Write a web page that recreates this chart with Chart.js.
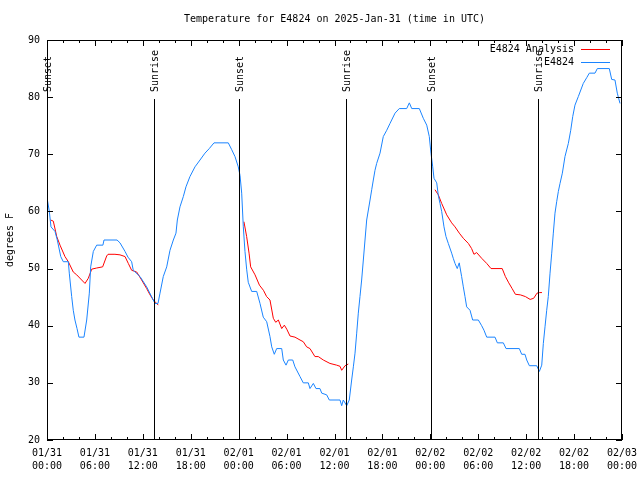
<!DOCTYPE html>
<html><head><meta charset="utf-8">
<script src="https://cdn.jsdelivr.net/npm/chart.js@4/dist/chart.umd.min.js"></script>
<style>html,body{margin:0;padding:0;background:#fff;}</style>
</head><body>
<canvas id="c" width="640" height="480"></canvas>
<script>
const FONT = "'DejaVu Sans Mono', 'Liberation Mono', monospace";

const chartTitle = 'Temperature for E4824 on 2025-Jan-31 (time in UTC)';
const yAxisTitle = 'degrees F';
const xTickLabels = [
  ['01/31','00:00'],['01/31','06:00'],['01/31','12:00'],['01/31','18:00'],
  ['02/01','00:00'],['02/01','06:00'],['02/01','12:00'],['02/01','18:00'],
  ['02/02','00:00'],['02/02','06:00'],['02/02','12:00'],['02/02','18:00'],
  ['02/03','00:00']
];

const sunHours  = [0.02, 13.4, 24.04, 37.44, 48.08, 61.48];
const sunLabels = ['Sunset','Sunrise','Sunset','Sunrise','Sunset','Sunrise'];

// E4824 observations (hours after 01/31 00:00 UTC, deg F)
const obsHours = [0.04,0.29,0.5,1.0,1.29,1.72,2.04,2.67,2.79,3.09,3.29,3.5,3.76,4.0,4.63,4.97,5.3,5.47,5.8,6.22,7.0,7.14,8.77,9.14,9.77,10.14,10.6,10.8,11.65,12.48,13.31,13.52,13.9,14.15,14.56,14.99,15.4,15.82,16.15,16.32,16.65,17.07,17.4,17.9,18.53,19.16,19.78,20.32,20.91,22.7,23.13,23.54,23.95,24.17,24.38,24.58,24.79,25.0,25.2,25.63,26.26,26.67,27.08,27.51,27.92,28.14,28.46,28.76,29.39,29.59,29.93,30.22,30.77,31.05,31.68,32.09,32.72,32.93,33.35,33.68,34.18,34.4,35.02,35.35,36.69,36.9,37.1,37.53,37.85,38.15,38.36,38.57,38.78,38.98,39.19,39.4,39.61,39.82,40.03,40.45,40.66,40.86,41.07,41.28,41.7,42.11,42.54,42.95,43.58,44.11,45.04,45.37,45.67,46.62,47.12,47.55,47.87,48.08,48.3,48.46,48.8,49.0,49.21,49.42,49.71,49.96,50.25,50.67,50.87,51.09,51.37,51.62,51.92,52.13,52.34,52.55,52.97,53.3,54.01,54.43,54.72,55.06,56.1,56.39,57.14,57.48,59.14,59.44,59.85,60.07,60.4,61.32,61.65,61.95,62.15,62.36,62.57,62.77,62.99,63.2,63.4,63.61,63.82,64.03,64.24,64.53,64.86,65.28,65.58,65.83,66.11,66.53,67.15,67.58,67.91,68.62,68.91,70.41,70.71,71.12,71.41,71.75];
const obsTemps = [62.1,60,57.3,56.5,55,52.1,51.2,51.2,49.2,45.1,42.7,41,39.5,38,38,41,45.7,50.3,53,54.1,54.1,55,55,54.5,53,52,51.2,49.7,48.6,46.8,44.5,43.9,43.9,45.7,48.6,50.3,53.2,55,56.2,58.5,60.8,62.6,64.3,66.1,67.8,69,70.2,71,72,72,70.8,69.6,67.8,66.3,63.2,57.3,53,49.9,47.6,46,46,43.9,41.5,40.7,38.1,36.3,35,36,36,34,33.1,34,34,32.8,31.1,30,30,29,29.9,29,29,28.2,27.9,27,27,26,27,26,27,30.5,32.8,35.2,38.7,42.2,45.1,48,51.5,55,58.5,62,63.8,65.5,67.2,68.4,70.2,73.1,74.2,75.4,77.2,78,78,79,78,78,76.3,75.1,73.1,70.2,67.8,65.8,65,62.8,61.4,60,57.3,55.6,54.4,52.7,51.8,50.9,50,51,48.6,46.8,45.1,43.3,42.7,41,41,40,39.2,38,38,37,37,36,36,35,35,34,33,33,32,33.1,36.9,39.8,42.7,45.1,49.2,52.7,56.2,59.7,61.7,63.5,64.9,66.7,69.6,71.9,74.2,76.6,78.6,80.1,82.4,83.4,84.2,84.2,85,85,83.1,83,80.7,78.9];

// E4824 Analysis (null = gap during daytime)
const anaHours = [0.46,0.79,1.22,1.63,2.25,2.67,3.29,3.72,4.34,4.76,5.17,5.6,6.22,6.97,7.47,7.64,8.51,9.14,9.77,10.18,10.6,11.23,11.85,12.48,12.9,13.31,13.94,19,24.66,25.0,25.3,25.5,26.05,26.6,27.1,27.5,27.92,28.34,28.64,28.97,29.39,29.72,30.02,30.43,31.05,31.68,32.09,32.51,32.93,33.55,33.97,34.6,35.43,36.27,36.69,36.9,37.32,37.73,43,48.58,49.0,49.42,50.05,50.67,51.09,51.63,52.13,52.76,53.17,53.46,53.8,54.43,55.06,55.6,57.0,57.4,57.82,58.24,58.65,59.27,59.9,60.5,60.94,61.36,61.69,61.98];
const anaTemps = [58.5,58.3,55.6,54.1,52.1,51.2,49.4,48.9,48,47.4,48.3,49.9,50.1,50.3,52.2,52.5,52.5,52.4,52.1,50.9,49.7,49.4,48,46.5,45.4,44.5,43.6,null,58.2,55.6,52.7,50.3,48.9,47.1,46.2,45.1,44.5,41.3,40.6,41,39.5,40.1,39.4,38.2,38,37.5,37.2,36.3,36,34.6,34.6,34,33.4,33.1,32.9,32.2,33,33.3,null,63.8,62.9,61.4,59.4,58,57.3,56.2,55.3,54.4,53.5,52.5,52.8,51.8,50.9,50,50,48.6,47.5,46.5,45.5,45.4,45.1,44.6,44.8,45.7,45.8,45.8];

const toXY = (xs, ys) => xs.map((x, i) => ({x: x, y: ys[i]}));

const decorPlugin = {
  id: 'decor',
  afterDatasetsDraw(chart) {
    const {ctx, chartArea: a, scales: {x, y}} = chart;
    ctx.save();
    ctx.strokeStyle = '#000';
    ctx.lineWidth = 1;
    // frame
    ctx.strokeRect(a.left + 0.5, a.top + 0.5, a.right - a.left - 1, a.bottom - a.top - 1);
    // x ticks (minor every 2h, major every 6h), inward top & bottom
    ctx.beginPath();
    for (let h = x.min; h <= x.max; h += 2) {
      const px = Math.round(x.getPixelForValue(h)) + 0.5;
      const len = (h % 6 === 0) ? 6 : 3;
      ctx.moveTo(px, a.bottom); ctx.lineTo(px, a.bottom - len);
      ctx.moveTo(px, a.top); ctx.lineTo(px, a.top + len);
    }
    // y ticks left & right
    for (let v = y.min; v <= y.max; v += 10) {
      const py = Math.round(y.getPixelForValue(v)) + 0.5;
      ctx.moveTo(a.left, py); ctx.lineTo(a.left + 6, py);
      ctx.moveTo(a.right, py); ctx.lineTo(a.right - 6, py);
    }
    ctx.stroke();
    // sunrise / sunset markers
    ctx.font = '10px ' + FONT;
    ctx.fillStyle = '#000';
    sunHours.forEach((h, i) => {
      const px = Math.round(x.getPixelForValue(h)) + 0.5;
      ctx.beginPath();
      ctx.moveTo(px, a.top + 59); ctx.lineTo(px, a.bottom);
      ctx.stroke();
      ctx.save();
      ctx.translate(px + 1, a.top + 52);
      ctx.rotate(-Math.PI / 2);
      ctx.textAlign = 'left';
      ctx.textBaseline = 'middle';
      ctx.fillText(sunLabels[i], 0, 0);
      ctx.restore();
    });
    // key
    chart.data.datasets.forEach((ds, i) => {
      const ty = a.top + 9 + i * 13;
      ctx.textAlign = 'right';
      ctx.textBaseline = 'middle';
      ctx.fillStyle = '#000';
      ctx.fillText(ds.label, a.right - 48, ty);
      ctx.strokeStyle = ds.borderColor;
      ctx.beginPath();
      ctx.moveTo(a.right - 41, Math.round(ty) + 0.5);
      ctx.lineTo(a.right - 12, Math.round(ty) + 0.5);
      ctx.stroke();
    });
    ctx.restore();
  }
};

new Chart(document.getElementById('c'), {
  type: 'line',
  data: {
    datasets: [
      {label: 'E4824 Analysis', data: toXY(anaHours, anaTemps), borderColor: '#ff0000',
       borderWidth: 1, pointRadius: 0, tension: 0, spanGaps: false, order: 2},
      {label: 'E4824', data: toXY(obsHours, obsTemps), borderColor: '#1a84ff',
       borderWidth: 1, pointRadius: 0, tension: 0, spanGaps: false, order: 1}
    ]
  },
  options: {
    responsive: false,
    animation: false,
    devicePixelRatio: 1,
    layout: {padding: {top: 0, right: 18, bottom: 0, left: 0}},
    plugins: {
      legend: {display: false},
      tooltip: {enabled: false},
      title: {display: true, fullSize: false, text: chartTitle, color: '#000',
              font: {family: FONT, size: 10, weight: 'normal', lineHeight: '12px'},
              padding: {top: 13, bottom: 15}}
    },
    scales: {
      x: {
        type: 'linear', min: 0, max: 72,
        grid: {display: false, drawTicks: false},
        border: {display: false},
        afterFit: s => { s.height = 40; s.paddingLeft = 15; s.paddingRight = 15; },
        ticks: {
          stepSize: 6, autoSkip: false, maxRotation: 0, padding: 6.5, color: '#000',
          font: {family: FONT, size: 10, lineHeight: '13px'},
          callback: v => xTickLabels[Math.round(v / 6)]
        }
      },
      y: {
        min: 20, max: 90,
        grid: {display: false, drawTicks: false},
        border: {display: false},
        afterFit: s => { s.width = 47; },
        title: {display: true, text: yAxisTitle, color: '#000',
                font: {family: FONT, size: 10}, padding: {top: 4, bottom: 0}},
        ticks: {stepSize: 10, padding: 7, color: '#000', font: {family: FONT, size: 10}}
      }
    }
  },
  plugins: [decorPlugin]
});
</script>
</body></html>
